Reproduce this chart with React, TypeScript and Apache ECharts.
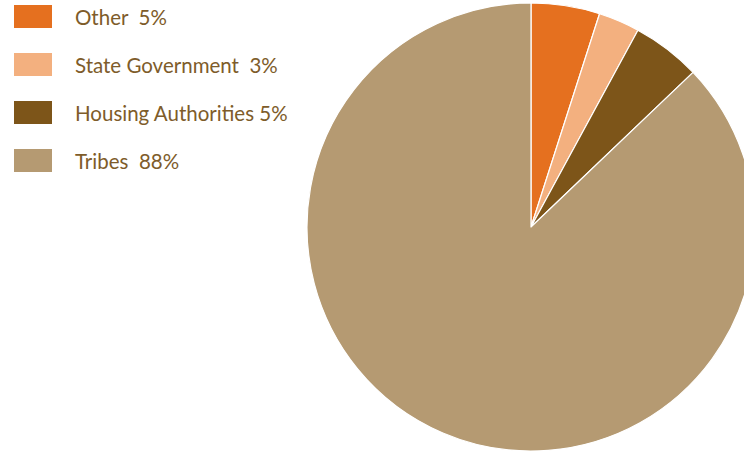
import React, { useEffect, useRef } from "react";
import * as echarts from "echarts";

const categories = ["Other", "State Government", "Housing Authorities", "Tribes"];
const values = [5, 3, 5, 88];
const legendLabels = ["Other  5%", "State Government  3%", "Housing Authorities 5%", "Tribes  88%"];
const colors = ["#E5701F", "#F3B07F", "#7D5519", "#B59A72"];

export default function App() {
  const ref = useRef<HTMLDivElement>(null);
  useEffect(() => {
    document.body.style.margin = "0";
    const chart = echarts.init(ref.current!, null, { renderer: "svg" });
    chart.setOption({
      animation: false,
      color: colors,
      legend: {
        orient: "vertical",
        left: 12,
        top: 3,
        padding: 0,
        itemWidth: 40,
        itemHeight: 25,
        itemGap: 21,
        icon: "rect",
        selectedMode: false,
        formatter: (name: string) => legendLabels[categories.indexOf(name)],
        textStyle: {
          fontFamily: "Lato",
          fontSize: 20.5,
          lineHeight: 25,
          color: "#7E5C2A",
          padding: [0, 0, 0, 17],
        },
        data: categories,
      },
      series: [
        {
          type: "pie",
          center: [531, 227],
          radius: 224,
          startAngle: 90,
          clockwise: true,
          label: { show: false },
          labelLine: { show: false },
          emphasis: { disabled: true },
          itemStyle: { borderColor: "#ffffff", borderWidth: 1.2 },
          data: categories.map((c, i) => ({ name: c, value: values[i] })),
        },
      ],
    });
    return () => chart.dispose();
  }, []);
  return <div ref={ref} style={{ width: 744, height: 451 }} />;
}
